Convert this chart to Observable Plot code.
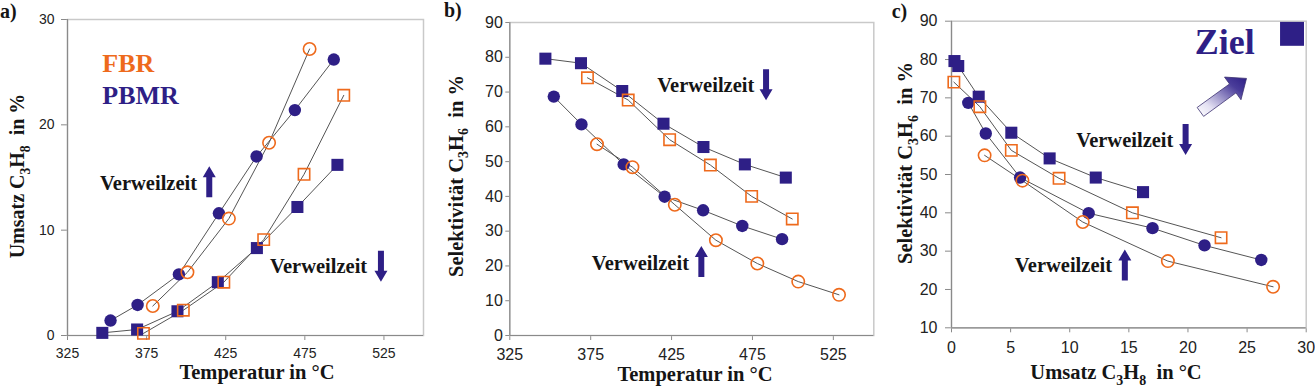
<!DOCTYPE html>
<html>
<head>
<meta charset="utf-8">
<script src="https://cdn.jsdelivr.net/npm/d3@7"></script>
<script src="https://cdn.jsdelivr.net/npm/@observablehq/plot@0.6"></script>
<style>
  body { margin: 0; background: #fff; }
  #wrap { position: relative; width: 1315px; height: 389px; overflow: hidden; background: #fff; }
  .panel { position: absolute; top: 0; }
  .serif { font-family: "Liberation Serif", "Times New Roman", Tinos, "DejaVu Serif", serif !important; }
</style>
</head>
<body>
<div id="wrap"></div>
<script>
// ---------------- DATA ----------------
// Temperatures (°C) of each series
const tempPBMRsq = [347, 369, 394.5, 420, 444.7, 470.3, 495.6];
const tempFBRsq  = [373, 398.2, 423.8, 449, 474.5, 499.6];
const tempPBMRci = [352.2, 369.3, 395.4, 420.7, 444.5, 468.7, 493.3];
const tempFBRci  = [378.9, 400.8, 427, 452.4, 478, 503.3, 528.5];
// Umsatz C3H8 (%)
const convPBMRsq = [0.25, 0.57, 2.3, 5.06, 8.3, 12.2, 16.2];
const convFBRsq  = [0.2, 2.4, 5.06, 9.1, 15.3, 22.8];
const convPBMRci = [1.42, 2.9, 5.8, 11.6, 17.0, 21.4, 26.2];
const convFBRci  = [2.8, 6.0, 11.1, 18.3, 27.2];
// Selektivität C3H6 (%)
const selPBMRsq = [79.6, 78.3, 70.3, 60.9, 54.2, 49.2, 45.4];
const selFBRsq  = [74.1, 67.7, 56.3, 49.0, 40.0, 33.5];
const selPBMRci = [68.7, 60.7, 49.2, 39.9, 36.0, 31.5, 27.7];
const selFBRci  = [55.0, 48.4, 37.6, 27.4, 20.7, 15.5, 11.7];

// Ticks
const tempTicks = [325, 375, 425, 475, 525];
const convTicksA = [0, 10, 20, 30];
const selTicksB = [0, 10, 20, 30, 40, 50, 60, 70, 80, 90];
const convTicksC = [0, 5, 10, 15, 20, 25, 30];
const selTicksC = [10, 20, 30, 40, 50, 60, 70, 80, 90];

// Texts
const panelLetters = ["a)", "b)", "c)"];
const xTitleTemp = [["Temperatur in °C", 0]];
const xTitleConv = [["Umsatz C", 0], ["3", 1], ["H", 0], ["8", 1], ["  in °C", 0]];
const yTitleConv = [["Umsatz C", 0], ["3", 1], ["H", 0], ["8", 1], ["  in %", 0]];
const yTitleSel  = [["Selektivität C", 0], ["3", 1], ["H", 0], ["6", 1], ["  in %", 0]];
const residence = "Verweilzeit";

// Annotations (data coordinates)
const legendA = [{x: 347, y: 25.8, text: "FBR", reactor: "FBR"}, {x: 347, y: 22.8, text: "PBMR", reactor: "PBMR"}];
const notesA = [{x: 345.5, y: 14.4}, {x: 453, y: 6.55}];
const arrowsA = [{x: 414.6, y: 14.6, dir: "up"}, {x: 523.1, y: 6.58, dir: "down"}];
const notesB = [{x: 416.1, y: 71.8}, {x: 375.7, y: 20.7}];
const arrowsB = [{x: 483.4, y: 72.1, dir: "down"}, {x: 443.4, y: 21.3, dir: "up"}];
const notesC = [{x: 10.55, y: 58.8}, {x: 5.36, y: 26.2}];
const arrowsC = [{x: 19.8, y: 59.1, dir: "down"}, {x: 14.66, y: 26.4, dir: "up"}];
const goalPoint = [{x: 28.8, y: 86.7}];
const goalLabel = [{x: 20.58, y: 84.5, text: "Ziel"}];
const goalArrow = [{x: 23.0, y: 70.7}];

// ---------------- STYLE ----------------
const navy = "#2e1f86";
const orange = "#ee6a1c";
const serif = "Liberation Serif";
const sans = "'Liberation Sans', Arial, sans-serif";

function pairs(xs, ys, s) {
  const n = Math.min(xs.length, ys.length);
  return d3.range(n).map(i => ({x: xs[i], y: ys[i], s}));
}

const blockArrowUp = {draw(ctx) {
  const L = 31, sw = 3, hw = 6.5, hl = 11, t = -L / 2, b = L / 2;
  ctx.moveTo(-sw, b); ctx.lineTo(-sw, t + hl); ctx.lineTo(-hw, t + hl); ctx.lineTo(0, t);
  ctx.lineTo(hw, t + hl); ctx.lineTo(sw, t + hl); ctx.lineTo(sw, b); ctx.closePath();
}};
const blockArrowDown = {draw(ctx) {
  const L = 31, sw = 3, hw = 6.5, hl = 11, t = -L / 2, b = L / 2;
  ctx.moveTo(-sw, t); ctx.lineTo(-sw, b - hl); ctx.lineTo(-hw, b - hl); ctx.lineTo(0, b);
  ctx.lineTo(hw, b - hl); ctx.lineTo(sw, b - hl); ctx.lineTo(sw, t); ctx.closePath();
}};
const diagArrow = {draw(ctx) {
  const L = 57, sw = 5.5, hw = 14, hl = 17, ang = -36 * Math.PI / 180;
  const c = Math.cos(ang), s = Math.sin(ang);
  const pts = [[-L/2, -sw], [L/2 - hl, -sw], [L/2 - hl, -hw], [L/2, 0], [L/2 - hl, hw], [L/2 - hl, sw], [-L/2, sw]];
  pts.forEach(([u, v], i) => {
    const X = u * c - v * s, Y = u * s + v * c;
    if (i === 0) ctx.moveTo(X, Y); else ctx.lineTo(X, Y);
  });
  ctx.closePath();
}};

function seriesMarks(data) {
  return [
    Plot.line(data, {x: "x", y: "y", z: "s", stroke: "#555", strokeWidth: 1}),
    Plot.dot(data.filter(d => d.s === "PBMRsq"), {x: "x", y: "y", symbol: "square", r: 6.8, fill: navy}),
    Plot.dot(data.filter(d => d.s === "PBMRci"), {x: "x", y: "y", symbol: "circle", r: 6.2, fill: navy}),
    Plot.dot(data.filter(d => d.s === "FBRsq"), {x: "x", y: "y", symbol: "square", r: 6.4, fill: "none", stroke: orange, strokeWidth: 1.6}),
    Plot.dot(data.filter(d => d.s === "FBRci"), {x: "x", y: "y", symbol: "circle", r: 6.2, fill: "none", stroke: orange, strokeWidth: 1.6})
  ];
}

function noteMarks(notes, arrows, size) {
  return [
    Plot.text(notes, {x: "x", y: "y", text: () => residence, textAnchor: "start", className: "serif",
      fontFamily: serif, fontWeight: "bold", fontSize: size, fill: "#151515"}),
    Plot.dot(arrows.filter(d => d.dir === "up"), {x: "x", y: "y", symbol: blockArrowUp, fill: navy, stroke: "none"}),
    Plot.dot(arrows.filter(d => d.dir === "down"), {x: "x", y: "y", symbol: blockArrowDown, fill: navy, stroke: "none"})
  ];
}

function addRich(svg, {x, y, rotate = 0, size, anchor = "middle", parts}) {
  const t = d3.select(svg).append("text")
    .attr("class", "serif")
    .attr("transform", `translate(${x},${y})` + (rotate ? ` rotate(${rotate})` : ""))
    .attr("text-anchor", anchor).attr("font-family", serif).attr("font-weight", "bold")
    .attr("font-size", size).attr("fill", "#151515").style("white-space", "pre");
  let shifted = false;
  parts.forEach(([txt, sub]) => {
    const ts = t.append("tspan").text(txt);
    if (sub && !shifted) { ts.attr("dy", size * 0.28); shifted = true; }
    else if (!sub && shifted) { ts.attr("dy", -size * 0.28); shifted = false; }
    if (sub) ts.attr("font-size", size * 0.68);
  });
}

function finishAxes(svg) {
  d3.select(svg).selectAll('[aria-label$="-axis tick"]').attr("stroke", "#8a8a8a");
  d3.select(svg).selectAll("g.serif text").classed("serif", true);
}

function mount(svg, left) {
  const div = document.createElement("div");
  div.className = "panel";
  div.style.left = left + "px";
  div.appendChild(svg);
  document.getElementById("wrap").appendChild(div);
}

// ---------------- PANEL A ----------------
const dataA = [
  ...pairs(tempPBMRsq, convPBMRsq, "PBMRsq"),
  ...pairs(tempFBRsq, convFBRsq, "FBRsq"),
  ...pairs(tempPBMRci, convPBMRci, "PBMRci"),
  ...pairs(tempFBRci, convFBRci, "FBRci")
];
const svgA = Plot.plot({
  width: 440, height: 389,
  marginLeft: 67, marginRight: 17, marginTop: 19, marginBottom: 54,
  style: {fontFamily: sans, fontSize: "14px", color: "#222", background: "white", overflow: "visible"},
  x: {domain: [325, 550], ticks: tempTicks, tickSize: 5, tickPadding: 8, label: null},
  y: {domain: [0, 30], ticks: convTicksA, tickSize: 6, tickPadding: 7, label: null},
  marks: [
    Plot.frame({stroke: "#c9c9c9", strokeWidth: 1.5}),
    Plot.ruleX([325], {stroke: "#8a8a8a", strokeWidth: 1.2}),
    Plot.ruleY([0], {stroke: "#8a8a8a", strokeWidth: 1.2}),
    Plot.text(legendA, {x: "x", y: "y", text: "text", textAnchor: "start", className: "serif", fontFamily: serif, fontWeight: "bold",
      fontSize: 26, fill: d => d.reactor === "FBR" ? orange : navy}),
    ...noteMarks(notesA, arrowsA, 20.5),
    ...seriesMarks(dataA)
  ]
});
finishAxes(svgA);
addRich(svgA, {x: 0, y: 18, size: 20, anchor: "start", parts: [[panelLetters[0], 0]]});
addRich(svgA, {x: 24, y: 176, rotate: -90, size: 20, parts: yTitleConv});
addRich(svgA, {x: 257, y: 379, size: 20.5, parts: xTitleTemp});
mount(svgA, 0);

// ---------------- PANEL B ----------------
const dataB = [
  ...pairs(tempPBMRsq, selPBMRsq, "PBMRsq"),
  ...pairs(tempFBRsq, selFBRsq, "FBRsq"),
  ...pairs(tempPBMRci, selPBMRci, "PBMRci"),
  ...pairs(tempFBRci, selFBRci, "FBRci")
];
const svgB = Plot.plot({
  width: 440, height: 389,
  marginLeft: 69.3, marginRight: 6.7, marginTop: 22, marginBottom: 54,
  style: {fontFamily: sans, fontSize: "16px", color: "#222", background: "white", overflow: "visible"},
  x: {domain: [325, 550], ticks: tempTicks, tickSize: 5, tickPadding: 8, label: null},
  y: {domain: [0, 90], ticks: selTicksB, tickSize: 4, tickPadding: 3, label: null},
  marks: [
    Plot.frame({stroke: "#c9c9c9", strokeWidth: 1.5}),
    Plot.ruleX([325], {stroke: "#8a8a8a", strokeWidth: 1.2}),
    Plot.ruleY([0], {stroke: "#8a8a8a", strokeWidth: 1.2}),
    ...noteMarks(notesB, arrowsB, 20.5),
    ...seriesMarks(dataB)
  ]
});
finishAxes(svgB);
addRich(svgB, {x: 4, y: 17, size: 20, anchor: "start", parts: [[panelLetters[1], 0]]});
addRich(svgB, {x: 22.7, y: 176, rotate: -90, size: 20.5, parts: yTitleSel});
addRich(svgB, {x: 255, y: 381, size: 20.5, parts: xTitleTemp});
mount(svgB, 440);

// ---------------- PANEL C ----------------
const dataC = [
  ...pairs(convPBMRsq, selPBMRsq, "PBMRsq"),
  ...pairs(convFBRsq, selFBRsq, "FBRsq"),
  ...pairs(convPBMRci, selPBMRci, "PBMRci"),
  ...pairs(convFBRci, selFBRci, "FBRci")
];
const svgC = Plot.plot({
  width: 435, height: 389,
  marginLeft: 71, marginRight: 9.3, marginTop: 20.7, marginBottom: 61.7,
  style: {fontFamily: sans, fontSize: "16px", color: "#222", background: "white", overflow: "visible"},
  x: {domain: [0, 30], ticks: convTicksC, tickSize: 5, tickPadding: 9, label: null},
  y: {domain: [10, 90], ticks: selTicksC, tickSize: 6, tickPadding: 8, label: null},
  marks: [
    Plot.frame({stroke: "#c9c9c9", strokeWidth: 1.5}),
    Plot.ruleX([0], {stroke: "#8a8a8a", strokeWidth: 1.2}),
    Plot.ruleY([10], {stroke: "#8a8a8a", strokeWidth: 1.2}),
    Plot.text(goalLabel, {x: "x", y: "y", text: "text", textAnchor: "start", className: "serif", fontFamily: serif, fontWeight: "bold", fontSize: 36, fill: navy}),
    Plot.dot(goalPoint, {x: "x", y: "y", symbol: "square", r: 13.5, fill: navy}),
    Plot.dot(goalArrow, {x: "x", y: "y", symbol: diagArrow, fill: "url(#goalGrad)", stroke: "#3b3070", strokeWidth: 0.8}),
    ...noteMarks(notesC, arrowsC, 20.5),
    ...seriesMarks(dataC)
  ]
});
{
  const defs = d3.select(svgC).insert("defs", ":first-child");
  const g = defs.append("linearGradient").attr("id", "goalGrad")
    .attr("x1", "0").attr("y1", "1").attr("x2", "1").attr("y2", "0");
  g.append("stop").attr("offset", "0%").attr("stop-color", "#ffffff");
  g.append("stop").attr("offset", "25%").attr("stop-color", "#e4e1f3");
  g.append("stop").attr("offset", "75%").attr("stop-color", "#4a3d9a");
  g.append("stop").attr("offset", "100%").attr("stop-color", navy);
}
finishAxes(svgC);
addRich(svgC, {x: 11.7, y: 18, size: 20, anchor: "start", parts: [[panelLetters[2], 0]]});
addRich(svgC, {x: 32.3, y: 163, rotate: -90, size: 20.5, parts: yTitleSel});
addRich(svgC, {x: 236, y: 379, size: 20.5, parts: xTitleConv});
mount(svgC, 880);
</script>
</body>
</html>
